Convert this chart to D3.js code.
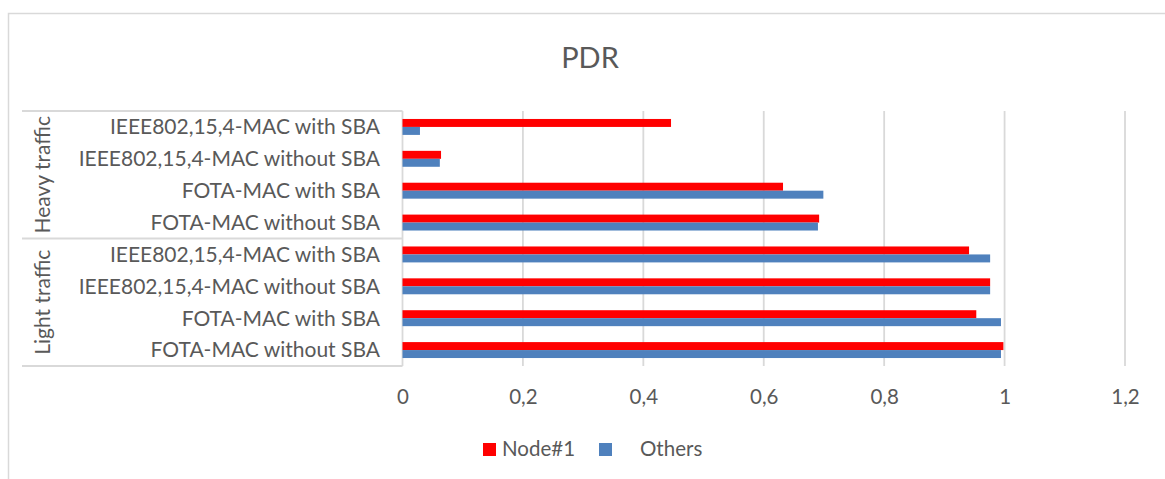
<!DOCTYPE html>
<html>
<head>
<meta charset="utf-8">
<script src="https://cdn.jsdelivr.net/npm/d3@7"></script>
<style>
  body { margin: 0; background: #fff; }
  text { font-family: Lato, "Open Sans", sans-serif; fill: #595959; }
</style>
</head>
<body>
<svg id="chart" width="1165" height="479"></svg>
<script>
var groups = ["Heavy traffic", "Light traffic"];
var labels = [
  "IEEE802,15,4-MAC with SBA",
  "IEEE802,15,4-MAC without SBA",
  "FOTA-MAC with SBA",
  "FOTA-MAC without SBA",
  "IEEE802,15,4-MAC with SBA",
  "IEEE802,15,4-MAC without SBA",
  "FOTA-MAC with SBA",
  "FOTA-MAC without SBA"
];
var node1 = [0.446, 0.064, 0.632, 0.692, 0.941, 0.976, 0.953, 0.998];
var others = [0.029, 0.062, 0.699, 0.690, 0.976, 0.976, 0.994, 0.994];
var series = ["Node#1", "Others"];
var colors = ["#ff0000", "#4f81bd"];
var ticks = [0, 0.2, 0.4, 0.6, 0.8, 1, 1.2];

var svg = d3.select("#chart");
var grid_color = "#d9d9d9";

var plot = {left: 402.5, right: 1125, top: 111, bottom: 366};

var x = d3.scaleLinear().domain([0, 1.2]).range([plot.left, plot.right]);
var y = d3.scaleBand().domain(d3.range(labels.length))
  .range([plot.top, plot.bottom]).paddingInner(0.5).paddingOuter(0.25);
var ys = d3.scaleBand().domain([0, 1]).range([0, y.bandwidth()]);

var locale = d3.formatLocale({decimal: ",", thousands: ".", grouping: [3], currency: ["", ""]});
var fmt = locale.format(".1~f");

// outer chart frame (left + top only visible)
svg.append("path")
  .attr("d", "M8.5,479 L8.5,13.5 L1165,13.5")
  .attr("fill", "none")
  .attr("stroke", grid_color)
  .attr("stroke-width", 1.5);

// title
svg.append("text")
  .attr("x", 590).attr("y", 68)
  .attr("text-anchor", "middle")
  .style("font-size", "29px")
  .text("PDR");

// gridlines
svg.append("g").selectAll("line")
  .data(ticks)
  .join("line")
  .attr("x1", function(d) { return x(d); })
  .attr("x2", function(d) { return x(d); })
  .attr("y1", plot.top).attr("y2", plot.bottom)
  .attr("stroke", grid_color)
  .attr("stroke-width", 1.8);

// x axis tick labels
var xAxis = d3.axisBottom(x).tickValues(ticks).tickFormat(fmt).tickSize(0).tickPadding(0);
var gx = svg.append("g")
  .attr("transform", "translate(0," + 404 + ")")
  .call(xAxis);
gx.select(".domain").remove();
gx.selectAll("text")
  .attr("dy", 0)
  .style("font-size", "20.5px")
  .style("fill", "#595959")
  .style("font-family", "Lato, 'Open Sans', sans-serif");

// category box lines
var box_left = 22;
var divs = [plot.top, (y(3) + y.bandwidth() + y(4)) / 2, plot.bottom];
svg.append("g").selectAll("line")
  .data(divs)
  .join("line")
  .attr("x1", box_left).attr("x2", plot.left)
  .attr("y1", function(d) { return d; })
  .attr("y2", function(d) { return d; })
  .attr("stroke", grid_color)
  .attr("stroke-width", 1.8);

// bars
var rows = labels.map(function(l, i) { return {i: i, vals: [node1[i], others[i]]}; });
var row = svg.append("g").selectAll("g")
  .data(rows)
  .join("g")
  .attr("transform", function(d) { return "translate(0," + y(d.i) + ")"; });

row.selectAll("rect")
  .data(function(d) { return d.vals.map(function(v, k) { return {k: k, v: v}; }); })
  .join("rect")
  .attr("x", x(0))
  .attr("y", function(d) { return ys(d.k); })
  .attr("width", function(d) { return x(d.v) - x(0); })
  .attr("height", ys.bandwidth())
  .attr("fill", function(d) { return colors[d.k]; });

// category labels
svg.append("g").selectAll("text")
  .data(labels)
  .join("text")
  .attr("x", 380)
  .attr("y", function(d, i) { return y(i) + y.bandwidth() / 2; })
  .attr("dy", "0.35em")
  .attr("text-anchor", "end")
  .style("font-size", "21px")
  .text(function(d) { return d; });

// group labels (rotated)
svg.append("g").selectAll("text")
  .data(groups)
  .join("text")
  .attr("transform", function(d, g) {
    var cy = (divs[g] + divs[g + 1]) / 2;
    return "translate(50," + cy + ") rotate(-90)";
  })
  .attr("text-anchor", "middle")
  .style("font-size", "21px")
  .text(function(d) { return d; });

// legend
var legend_x = [483, 599];
var legend_tx = [502, 640];
var lg = svg.append("g").selectAll("g")
  .data(series)
  .join("g");
lg.append("rect")
  .attr("x", function(d, i) { return legend_x[i]; })
  .attr("y", 443)
  .attr("width", 13).attr("height", 13)
  .attr("fill", function(d, i) { return colors[i]; });
lg.append("text")
  .attr("x", function(d, i) { return legend_tx[i]; })
  .attr("y", 449)
  .attr("dy", "0.35em")
  .style("font-size", "20.5px")
  .text(function(d) { return d; });
</script>
</body>
</html>
